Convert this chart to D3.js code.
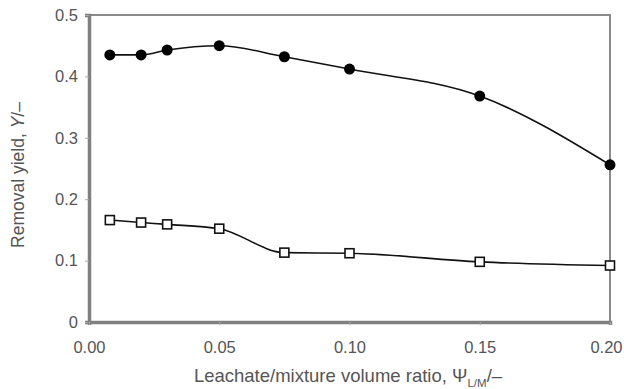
<!DOCTYPE html>
<html>
<head>
<meta charset="utf-8">
<script src="https://cdn.jsdelivr.net/npm/d3@7"></script>
<style>
  body { margin: 0; background: #fff; }
  text { font-family: "Liberation Sans", Arial, sans-serif; fill: #555; }
</style>
</head>
<body>
<svg width="624" height="389"></svg>
<script>
// data
const ratios = [0.008, 0.02, 0.03, 0.05, 0.075, 0.10, 0.15, 0.20];
const yieldFilled = [0.435, 0.435, 0.443, 0.450, 0.432, 0.412, 0.368, 0.256];
const yieldOpen = [0.166, 0.162, 0.159, 0.152, 0.113, 0.112, 0.098, 0.092];
const xTicks = [0, 0.05, 0.10, 0.15, 0.20];
const yTicks = [0, 0.1, 0.2, 0.3, 0.4, 0.5];

const svg = d3.select('svg');
const margin = {left: 89, top: 15, right: 14, bottom: 67};
const width = 624 - margin.left - margin.right;
const height = 389 - margin.top - margin.bottom;

const x = d3.scaleLinear().domain([0, 0.20]).range([0, width]);
const y = d3.scaleLinear().domain([0, 0.5]).range([height, 0]);

const g = svg.append('g').attr('transform', 'translate(' + margin.left + ',' + margin.top + ')');

// frame - top/right thinner than the axes
g.append('rect').attr('x', 0).attr('y', 0).attr('width', width).attr('height', height)
  .attr('fill', 'none').attr('stroke', '#8a8a8a').attr('stroke-width', 2);

// y axis
const yAxis = g.append('g')
  .call(d3.axisLeft(y).tickValues(yTicks).tickSize(4).tickPadding(7)
    .tickFormat(d => d === 0 ? '0' : d3.format('.1f')(d)));
yAxis.select('.domain').attr('stroke', '#808080').attr('stroke-width', 3.5);
yAxis.selectAll('.tick line').attr('stroke', '#aaa');
yAxis.selectAll('text').attr('font-size', 16.5).style('fill', '#555');

// x axis
const xAxis = g.append('g').attr('transform', 'translate(0,' + height + ')')
  .call(d3.axisBottom(x).tickValues(xTicks).tickSize(3).tickPadding(16)
    .tickFormat(d3.format('.2f')));
xAxis.select('.domain').attr('stroke', '#808080').attr('stroke-width', 3.5);
xAxis.selectAll('.tick line').attr('stroke', '#aaa');
xAxis.selectAll('text').attr('font-size', 16.5).style('fill', '#555');
// last label would run off the window edge - nudge it in a bit
xAxis.selectAll('.tick text').filter(d => d === 0.20).attr('dx', -4);

// axis titles
const yt = svg.append('text')
  .attr('transform', 'translate(24,175) rotate(-90)')
  .attr('text-anchor', 'middle').attr('font-size', 17.5);
yt.append('tspan').text('Removal yield, ');
yt.append('tspan').attr('font-style', 'italic').text('Y');
yt.append('tspan').text('/–');

const xt = svg.append('text')
  .attr('x', 348).attr('y', 382)
  .attr('text-anchor', 'middle').attr('font-size', 18.5);
xt.append('tspan').text('Leachate/mixture volume ratio, Ψ');
xt.append('tspan').attr('font-size', 11.5).attr('dy', 5).text('L/M');
xt.append('tspan').attr('dy', -5).text('/–');

// series
const line = d3.line().curve(d3.curveMonotoneX)
  .x(d => x(d[0])).y(d => y(d[1]));

const filled = ratios.map((r, i) => [r, yieldFilled[i]]);
const open = ratios.map((r, i) => [r, yieldOpen[i]]);

g.append('path').datum(filled).attr('d', line)
  .attr('fill', 'none').attr('stroke', '#111').attr('stroke-width', 1.6);
g.append('path').datum(open).attr('d', line)
  .attr('fill', 'none').attr('stroke', '#111').attr('stroke-width', 1.6);

g.selectAll('circle.pt').data(filled).enter().append('circle')
  .attr('class', 'pt')
  .attr('cx', d => x(d[0])).attr('cy', d => y(d[1])).attr('r', 5.5)
  .attr('fill', '#000');

g.selectAll('rect.pt').data(open).enter().append('rect')
  .attr('class', 'pt')
  .attr('x', d => x(d[0]) - 4.5).attr('y', d => y(d[1]) - 4.5)
  .attr('width', 9).attr('height', 9)
  .attr('fill', '#fff').attr('stroke', '#111').attr('stroke-width', 1.6);
</script>
</body>
</html>
